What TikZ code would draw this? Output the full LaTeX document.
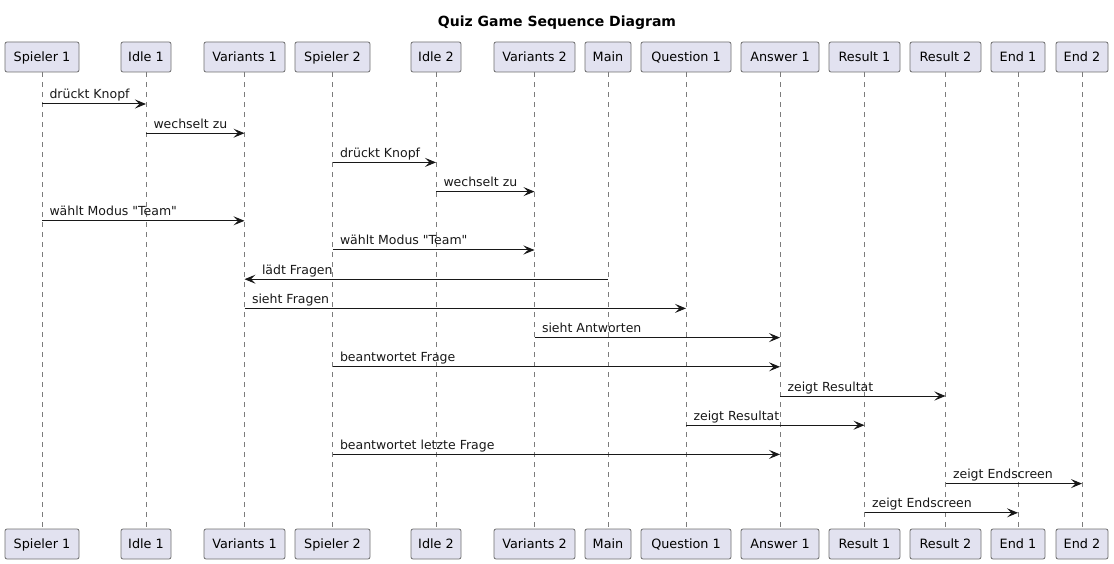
\documentclass[tikz,border=0pt]{standalone}
\usepackage{fontspec}
\setmainfont{DejaVu Sans}
\usetikzlibrary{arrows.meta}
\definecolor{umlfill}{HTML}{E2E2F0}
\definecolor{umlline}{HTML}{181818}
\definecolor{umlgray}{HTML}{6E6E6E}
\definecolor{lifegray}{HTML}{7C7C7C}
\begin{document}
\begin{tikzpicture}[x=1pt,y=-1pt,
  actor/.style={draw=umlgray,line width=0.8pt,fill=umlfill,rounded corners=2pt,
    minimum height=30pt,inner sep=0pt,text height=11.5pt,text depth=2.5pt,
    font=\fontsize{12.8}{15}\selectfont},
  life/.style={lifegray,line width=0.6pt,dash pattern=on 5pt off 5pt},
  msg/.style={umlline,line width=1pt,-{Stealth[length=11pt,width=9pt,inset=4.5pt]}},
  lbl/.style={inner sep=0pt,anchor=base west,yshift=5pt,font=\fontsize{12.5}{15}\selectfont}]
\useasboundingbox (0,0) rectangle (1114,564);
\node[font=\bfseries\fontsize{14}{17}\selectfont,anchor=base] (title) at (557,27) {Quiz Game Sequence Diagram};
% participants, top row
\node[actor,minimum width=74pt] (sp1) at (42,57) {Spieler 1};
\node[actor,minimum width=50pt] (idle1) at (146,57) {Idle 1};
\node[actor,minimum width=81pt] (var1) at (244.5,57) {Variants 1};
\node[actor,minimum width=75pt] (sp2) at (332.5,57) {Spieler 2};
\node[actor,minimum width=50pt] (idle2) at (436,57) {Idle 2};
\node[actor,minimum width=81pt] (var2) at (534.5,57) {Variants 2};
\node[actor,minimum width=46pt] (main) at (608,57) {Main};
\node[actor,minimum width=90pt] (q1) at (686,57) {Question 1};
\node[actor,minimum width=78pt] (a1) at (780,57) {Answer 1};
\node[actor,minimum width=71pt] (res1) at (864.5,57) {Result 1};
\node[actor,minimum width=71pt] (res2) at (945.5,57) {Result 2};
\node[actor,minimum width=54pt] (end1) at (1018,57) {End 1};
\node[actor,minimum width=52pt] (end2) at (1082,57) {End 2};
% participants, bottom row
\node[actor,minimum width=74pt] (sp1b) at (42,544) {Spieler 1};
\node[actor,minimum width=50pt] (idle1b) at (146,544) {Idle 1};
\node[actor,minimum width=81pt] (var1b) at (244.5,544) {Variants 1};
\node[actor,minimum width=75pt] (sp2b) at (332.5,544) {Spieler 2};
\node[actor,minimum width=50pt] (idle2b) at (436,544) {Idle 2};
\node[actor,minimum width=81pt] (var2b) at (534.5,544) {Variants 2};
\node[actor,minimum width=46pt] (mainb) at (608,544) {Main};
\node[actor,minimum width=90pt] (q1b) at (686,544) {Question 1};
\node[actor,minimum width=78pt] (a1b) at (780,544) {Answer 1};
\node[actor,minimum width=71pt] (res1b) at (864.5,544) {Result 1};
\node[actor,minimum width=71pt] (res2b) at (945.5,544) {Result 2};
\node[actor,minimum width=54pt] (end1b) at (1018,544) {End 1};
\node[actor,minimum width=52pt] (end2b) at (1082,544) {End 2};
% lifelines
\draw[life] (sp1) -- (sp1b);
\draw[life] (idle1) -- (idle1b);
\draw[life] (var1) -- (var1b);
\draw[life] (sp2) -- (sp2b);
\draw[life] (idle2) -- (idle2b);
\draw[life] (var2) -- (var2b);
\draw[life] (main) -- (mainb);
\draw[life] (q1) -- (q1b);
\draw[life] (a1) -- (a1b);
\draw[life] (res1) -- (res1b);
\draw[life] (res2) -- (res2b);
\draw[life] (end1) -- (end1b);
\draw[life] (end2) -- (end2b);
% messages
\draw[msg] (sp1 |- 0,104) -- node[lbl,pos=0,xshift=7pt] {drückt Knopf} (idle1 |- 0,104);
\draw[msg] (idle1 |- 0,133.2) -- node[lbl,pos=0,xshift=7pt] {wechselt zu} (var1 |- 0,133.2);
\draw[msg] (sp2 |- 0,162.4) -- node[lbl,pos=0,xshift=7pt] {drückt Knopf} (idle2 |- 0,162.4);
\draw[msg] (idle2 |- 0,191.6) -- node[lbl,pos=0,xshift=7pt] {wechselt zu} (var2 |- 0,191.6);
\draw[msg] (sp1 |- 0,220.8) -- node[lbl,pos=0,xshift=7pt] {wählt Modus \textquotedbl Team\textquotedbl} (var1 |- 0,220.8);
\draw[msg] (sp2 |- 0,250) -- node[lbl,pos=0,xshift=7pt] {wählt Modus \textquotedbl Team\textquotedbl} (var2 |- 0,250);
\draw[msg] (main |- 0,279.2) -- node[lbl,pos=1,xshift=17pt] {lädt Fragen} (var1 |- 0,279.2);
\draw[msg] (var1 |- 0,308.4) -- node[lbl,pos=0,xshift=7pt] {sieht Fragen} (q1 |- 0,308.4);
\draw[msg] (var2 |- 0,337.6) -- node[lbl,pos=0,xshift=7pt] {sieht Antworten} (a1 |- 0,337.6);
\draw[msg] (sp2 |- 0,366.8) -- node[lbl,pos=0,xshift=7pt] {beantwortet Frage} (a1 |- 0,366.8);
\draw[msg] (a1 |- 0,396) -- node[lbl,pos=0,xshift=7pt] {zeigt Resultat} (res2 |- 0,396);
\draw[msg] (q1 |- 0,425.2) -- node[lbl,pos=0,xshift=7pt] {zeigt Resultat} (res1 |- 0,425.2);
\draw[msg] (sp2 |- 0,454.4) -- node[lbl,pos=0,xshift=7pt] {beantwortet letzte Frage} (a1 |- 0,454.4);
\draw[msg] (res2 |- 0,483.6) -- node[lbl,pos=0,xshift=7pt] {zeigt Endscreen} (end2 |- 0,483.6);
\draw[msg] (res1 |- 0,512.8) -- node[lbl,pos=0,xshift=7pt] {zeigt Endscreen} (end1 |- 0,512.8);
\end{tikzpicture}
\end{document}
